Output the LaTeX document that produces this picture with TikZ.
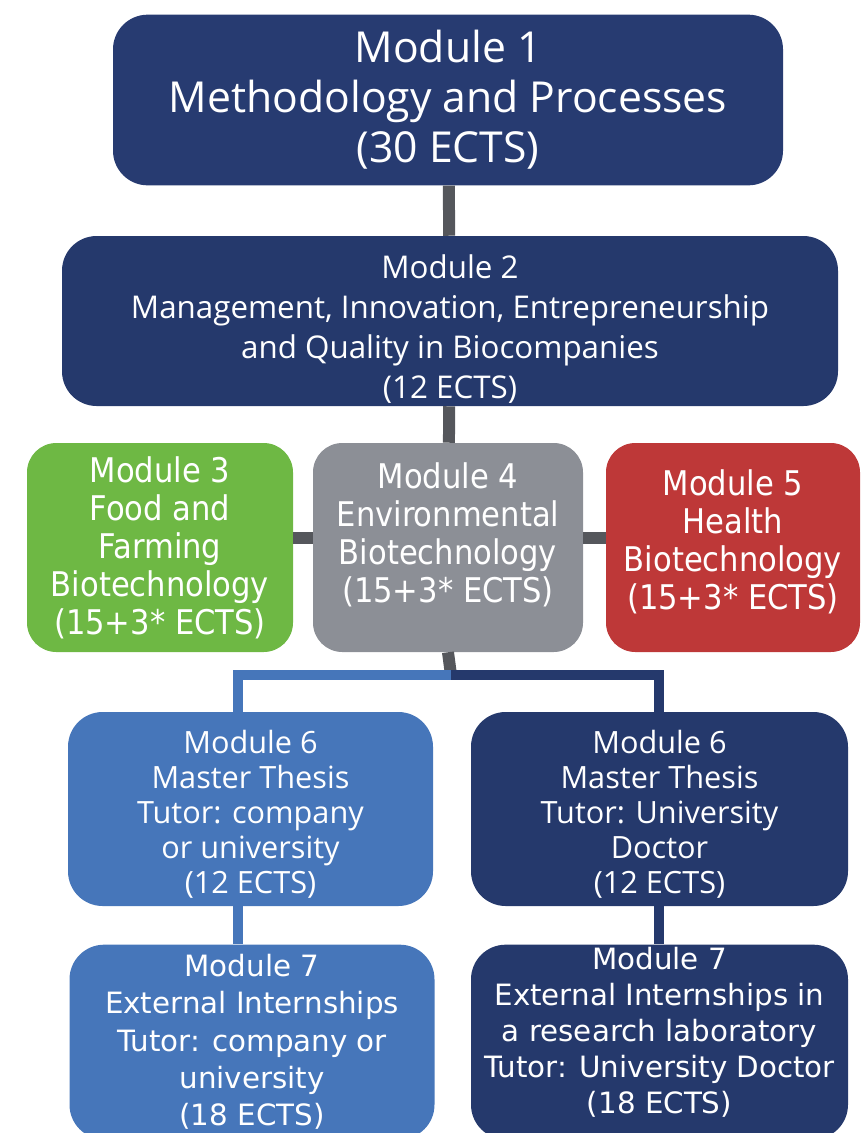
\documentclass[tikz,border=0pt]{standalone}
\usepackage{fontspec}
\setmainfont{Open Sans}
\newfontfamily\tahfont[FakeStretch=0.9]{DejaVu Sans}
\newfontfamily\tahwide{DejaVu Sans}
\usetikzlibrary{calc}

\definecolor{navyA}{RGB}{39,59,113}
\definecolor{navyB}{RGB}{37,57,108}
\definecolor{farmgreen}{RGB}{110,184,68}
\definecolor{envgray}{RGB}{140,143,150}
\definecolor{healthred}{RGB}{190,56,56}
\definecolor{thesisblue}{RGB}{70,118,186}
\definecolor{linkgray}{RGB}{85,87,92}

\begin{document}
\begin{tikzpicture}[x=0.75pt,y=0.75pt,yscale=-1,xscale=1,
  module/.style={rectangle, rounded corners=26pt, text=white, align=center, inner sep=0pt},
  link/.style={line width=9pt, draw=linkgray}]
\useasboundingbox (0,0) rectangle (862,1133);

%Shape: Rounded Rect [Module 1]
\node[module, fill=navyA, minimum width=502.5pt, minimum height=128pt, font=\fontsize{32}{37.5}\selectfont] (m1) at (448,100) {Module 1\\Methodology and Processes\\(30 ECTS)};
%Shape: Rounded Rect [Module 2]
\node[module, fill=navyB, minimum width=582pt, minimum height=127.5pt, text height=120pt, font=\fontsize{23.5}{30}\selectfont] (m2) at (450,321) {Module 2\\Management, Innovation, Entrepreneurship\\and Quality in Biocompanies\\(12 ECTS)};

%Shape: Rounded Rect [Module 3]
\node[module, fill=farmgreen, minimum width=199.5pt, minimum height=156.75pt, rounded corners=22pt, font=\tahfont\fontsize{25.5}{28.5}\selectfont] (m3) at (160,547.5) {Module 3\\Food and\\Farming\\Biotechnology\\(15+3* ECTS)};
%Shape: Rounded Rect [Module 4]
\node[module, fill=envgray, minimum width=202.5pt, minimum height=156.75pt, rounded corners=22pt, text depth=23pt, font=\tahfont\fontsize{25.5}{28.5}\selectfont] (m4) at (448,547.5) {Module 4\\Environmental\\Biotechnology\\(15+3* ECTS)};
%Shape: Rounded Rect [Module 5]
\node[module, fill=healthred, minimum width=190.5pt, minimum height=156.75pt, rounded corners=22pt, text depth=12.5pt, font=\tahfont\fontsize{25.5}{28.5}\selectfont] (m5) at (733,547.5) {Module 5\\Health\\Biotechnology\\(15+3* ECTS)};

%Shape: Rounded Rect [Module 6 left]
\node[module, fill=thesisblue, minimum width=273.75pt, minimum height=145.5pt, text height=130.5pt, font=\fontsize{23}{26.25}\selectfont] (m6l) at (250.5,809) {Module 6\\Master Thesis\\Tutor: company\\or university\\(12 ECTS)};
%Shape: Rounded Rect [Module 6 right]
\node[module, fill=navyB, minimum width=282.75pt, minimum height=145.5pt, text height=130.5pt, font=\fontsize{23}{26.25}\selectfont] (m6r) at (659.5,809) {Module 6\\Master Thesis\\Tutor: University\\Doctor\\(12 ECTS)};

%Shape: Rounded Rect [Module 7 left]
\node[module, fill=thesisblue, minimum width=273.75pt, minimum height=146pt, font=\tahwide\fontsize{22}{28}\selectfont] (m7l) at (252,1042) {Module 7\\External Internships\\Tutor: company or\\university\\(18 ECTS)};
%Shape: Rounded Rect [Module 7 right]
\node[module, fill=navyB, minimum width=282.75pt, minimum height=146pt, text depth=18pt, font=\tahwide\fontsize{22}{27}\selectfont] (m7r) at (659.5,1042) {Module 7\\External Internships in\\a research laboratory\\Tutor: University Doctor\\(18 ECTS)};

%Straight Lines
\draw[link] (m1) -- (m2);
\draw[link] (m2) -- (m4);
\draw[link] ($(m3.east)+(0,-9.5)$) -- ($(m4.west)+(0,-9.5)$);
\draw[link] ($(m4.east)+(0,-9.5)$) -- ($(m5.west)+(0,-9.5)$);

%Bracket to thesis boxes
\coordinate (hub) at (451,675);
\coordinate (brl) at (238,675);
\coordinate (brr) at (659,675);
\draw[link] (m4.south) -- (hub);
\draw[line width=8pt, draw=thesisblue] (brl |- m6l.north) -- (brl) -- ([xshift=1pt]hub);
\draw[line width=8pt, draw=navyB] (hub) -- (brr) -- (brr |- m6r.north);
\draw[line width=8pt, draw=thesisblue] (brl |- m6l.south) -- (brl |- m7l.north);
\draw[line width=8pt, draw=navyB] (brr |- m6r.south) -- (brr |- m7r.north);

\end{tikzpicture}
\end{document}
